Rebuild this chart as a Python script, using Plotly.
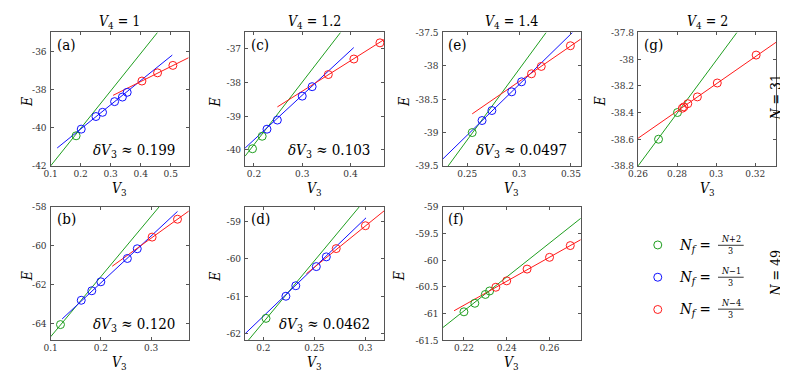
import plotly.graph_objects as go

W, H = 788, 372
FONT = "'DejaVu Serif Condensed', 'DejaVu Serif', serif"
GREEN = "#1f9e1f"
BLUE = "#1010ff"
RED = "#ff1a1a"

# ---- N = 31, V4 = 1  (a)
a_green_v3 = [0.185]
a_green_e = [-40.42]
a_blue_v3 = [0.202, 0.251, 0.273, 0.313, 0.339, 0.355]
a_blue_e = [-40.07, -39.41, -39.19, -38.63, -38.39, -38.14]
a_red_v3 = [0.404, 0.456, 0.507]
a_red_e = [-37.55, -37.12, -36.73]
a_green_fit_v3, a_green_fit_e = [0.1, 0.456], [-42.0, -35.0]
a_blue_fit_v3, a_blue_fit_e = [0.122, 0.505], [-41.06, -36.19]
a_red_fit_v3, a_red_fit_e = [0.308, 0.559], [-38.30, -36.33]

# ---- N = 31, V4 = 1.2  (c)
c_green_v3 = [0.197, 0.217]
c_green_e = [-39.97, -39.60]
c_blue_v3 = [0.227, 0.2485, 0.300, 0.3205]
c_blue_e = [-39.39, -39.12, -38.41, -38.13]
c_red_v3 = [0.354, 0.407, 0.461]
c_red_e = [-37.77, -37.31, -36.83]
c_green_fit_v3, c_green_fit_e = [0.1816, 0.3795], [-40.19, -36.52]
c_blue_fit_v3, c_blue_fit_e = [0.1816, 0.4068], [-39.95, -36.97]
c_red_fit_v3, c_red_fit_e = [0.2485, 0.470], [-38.73, -36.73]

# ---- N = 31, V4 = 1.4  (e)
e_green_v3 = [0.2548]
e_green_e = [-39.0]
e_blue_v3 = [0.2643, 0.2738, 0.2929, 0.3024]
e_blue_e = [-38.82, -38.67, -38.39, -38.24]
e_red_v3 = [0.312, 0.3214, 0.3495]
e_red_e = [-38.12, -38.01, -37.70]
e_green_fit_v3, e_green_fit_e = [0.2316, 0.3262], [-39.5, -37.5]
e_blue_fit_v3, e_blue_fit_e = [0.2262, 0.3516], [-39.40, -37.5]
e_red_fit_v3, e_red_fit_e = [0.2548, 0.3595], [-38.72, -37.60]

# ---- N = 31, V4 = 2  (g)
g_green_v3 = [0.2705, 0.2802]
g_green_e = [-38.6, -38.4]
g_red_v3 = [0.2827, 0.2835, 0.2855, 0.2904, 0.3006, 0.3205]
g_red_e = [-38.368, -38.358, -38.334, -38.283, -38.179, -37.97]
g_green_fit_v3, g_green_fit_e = [0.26, 0.3107], [-38.8, -37.8]
g_red_fit_v3, g_red_fit_e = [0.26, 0.3308], [-38.593, -37.873]

# ---- N = 49, V4 = 1  (b)
b_green_v3 = [0.1197]
b_green_e = [-64.07]
b_blue_v3 = [0.161, 0.182, 0.200, 0.2528, 0.2725]
b_blue_e = [-62.82, -62.33, -61.87, -60.67, -60.17]
b_red_v3 = [0.302, 0.3525]
b_red_e = [-59.57, -58.65]
b_green_fit_v3, b_green_fit_e = [0.1, 0.3164], [-64.7, -58.0]
b_blue_fit_v3, b_blue_fit_e = [0.123, 0.3525], [-63.78, -58.25]
b_red_fit_v3, b_red_fit_e = [0.2226, 0.375], [-61.07, -58.23]

# ---- N = 49, V4 = 1.2  (d)
d_green_v3 = [0.2026]
d_green_e = [-61.59]
d_blue_v3 = [0.2221, 0.2318, 0.2519, 0.2617]
d_blue_e = [-61.0, -60.72, -60.21, -59.95]
d_red_v3 = [0.2714, 0.300]
d_red_e = [-59.73, -59.12]
d_green_fit_v3, d_green_fit_e = [0.1854, 0.2942], [-62.17, -58.61]
d_blue_fit_v3, d_blue_fit_e = [0.1821, 0.3006], [-62.0, -58.91]
d_red_fit_v3, d_red_fit_e = [0.2422, 0.3185], [-60.40, -58.72]

# ---- N = 49, V4 = 1.4  (f)
f_green_v3 = [0.220, 0.2251, 0.2300, 0.2320]
f_green_e = [-60.97, -60.81, -60.645, -60.58]
f_red_v3 = [0.2349, 0.2400, 0.2495, 0.2600, 0.2697]
f_red_e = [-60.51, -60.39, -60.17, -59.95, -59.73]
f_green_fit_v3, f_green_fit_e = [0.21, 0.2746], [-61.27, -59.22]
f_red_fit_v3, f_red_fit_e = [0.2154, 0.2746], [-60.95, -59.62]

# axis ranges and ticks
a_xrange, a_yrange = [0.1, 0.56], [-42, -35]
a_xticks, a_yticks = [0.1, 0.2, 0.3, 0.4, 0.5], [-42, -40, -38, -36]
c_xrange, c_yrange = [0.1816, 0.47], [-40.48, -36.52]
c_xticks, c_yticks = [0.2, 0.3, 0.4], [-40, -39, -38, -37]
e_xrange, e_yrange = [0.2262, 0.3595], [-39.5, -37.5]
e_xticks, e_yticks = [0.25, 0.3, 0.35], [-39.5, -39, -38.5, -38, -37.5]
g_xrange, g_yrange = [0.26, 0.3308], [-38.8, -37.8]
g_xticks, g_yticks = [0.26, 0.28, 0.3, 0.32], [-38.8, -38.6, -38.4, -38.2, -38, -37.8]
b_xrange, b_yrange = [0.1, 0.375], [-64.87, -58]
b_xticks, b_yticks = [0.1, 0.2, 0.3], [-64, -62, -60, -58]
d_xrange, d_yrange = [0.1821, 0.3185], [-62.17, -58.61]
d_xticks, d_yticks = [0.2, 0.25, 0.3], [-62, -61, -60, -59]
f_xrange, f_yrange = [0.21, 0.2746], [-61.5, -59]
f_xticks, f_yticks = [0.22, 0.24, 0.26], [-61.5, -61, -60.5, -60, -59.5, -59]

v4_titles = ["1", "1.2", "1.4", "2"]
delta_v3 = {"a": "0.199", "c": "0.103", "e": "0.0497", "b": "0.120", "d": "0.0462"}


def px(x):
    return x / W


def py(y):
    return 1 - y / H


def label(x, y, text, size=15, xanchor="center", angle=0):
    return dict(x=px(x), y=py(y), xref="paper", yref="paper", text=text, showarrow=False,
                xanchor=xanchor, yanchor="middle", textangle=angle,
                font=dict(family=FONT, size=size, color="black"))


panels = [
    dict(tag="a", box=(33, 19, 173, 157), xr=a_xrange, yr=a_yrange, xt=a_xticks, yt=a_yticks,
         pts=[(a_green_v3, a_green_e, GREEN), (a_blue_v3, a_blue_e, BLUE), (a_red_v3, a_red_e, RED)],
         fits=[(a_green_fit_v3, a_green_fit_e, GREEN), (a_blue_fit_v3, a_blue_fit_e, BLUE),
               (a_red_fit_v3, a_red_fit_e, RED)], elab_x=9),
    dict(tag="c", box=(230, 19, 371, 157), xr=c_xrange, yr=c_yrange, xt=c_xticks, yt=c_yticks,
         pts=[(c_green_v3, c_green_e, GREEN), (c_blue_v3, c_blue_e, BLUE), (c_red_v3, c_red_e, RED)],
         fits=[(c_green_fit_v3, c_green_fit_e, GREEN), (c_blue_fit_v3, c_blue_fit_e, BLUE),
               (c_red_fit_v3, c_red_fit_e, RED)], elab_x=200),
    dict(tag="e", box=(430, 19, 570, 157), xr=e_xrange, yr=e_yrange, xt=e_xticks, yt=e_yticks,
         pts=[(e_green_v3, e_green_e, GREEN), (e_blue_v3, e_blue_e, BLUE), (e_red_v3, e_red_e, RED)],
         fits=[(e_green_fit_v3, e_green_fit_e, GREEN), (e_blue_fit_v3, e_blue_fit_e, BLUE),
               (e_red_fit_v3, e_red_fit_e, RED)], elab_x=391),
    dict(tag="g", box=(628, 19, 768, 157), xr=g_xrange, yr=g_yrange, xt=g_xticks, yt=g_yticks,
         pts=[(g_green_v3, g_green_e, GREEN), (g_red_v3, g_red_e, RED)],
         fits=[(g_green_fit_v3, g_green_fit_e, GREEN), (g_red_fit_v3, g_red_fit_e, RED)], elab_x=590),
    dict(tag="b", box=(33, 199, 173, 337), xr=b_xrange, yr=b_yrange, xt=b_xticks, yt=b_yticks,
         pts=[(b_green_v3, b_green_e, GREEN), (b_blue_v3, b_blue_e, BLUE), (b_red_v3, b_red_e, RED)],
         fits=[(b_green_fit_v3, b_green_fit_e, GREEN), (b_blue_fit_v3, b_blue_fit_e, BLUE),
               (b_red_fit_v3, b_red_fit_e, RED)], elab_x=9),
    dict(tag="d", box=(230, 199, 371, 337), xr=d_xrange, yr=d_yrange, xt=d_xticks, yt=d_yticks,
         pts=[(d_green_v3, d_green_e, GREEN), (d_blue_v3, d_blue_e, BLUE), (d_red_v3, d_red_e, RED)],
         fits=[(d_green_fit_v3, d_green_fit_e, GREEN), (d_blue_fit_v3, d_blue_fit_e, BLUE),
               (d_red_fit_v3, d_red_fit_e, RED)], elab_x=200),
    dict(tag="f", box=(430, 199, 570, 337), xr=f_xrange, yr=f_yrange, xt=f_xticks, yt=f_yticks,
         pts=[(f_green_v3, f_green_e, GREEN), (f_red_v3, f_red_e, RED)],
         fits=[(f_green_fit_v3, f_green_fit_e, GREEN), (f_red_fit_v3, f_red_fit_e, RED)], elab_x=386),
]

fig = go.Figure()
annotations = []
shapes = []
tick_font = dict(family=FONT, size=10, color="#333333")

for i, p in enumerate(panels, start=1):
    x0, y0, x1, y1 = p["box"]
    xa = "x" if i == 1 else f"x{i}"
    ya = "y" if i == 1 else f"y{i}"
    for vx, vy, col in p["fits"]:
        fig.add_trace(go.Scatter(x=vx, y=vy, mode="lines", line=dict(color=col, width=1),
                                 xaxis=xa, yaxis=ya, showlegend=False, hoverinfo="skip"))
    for vx, vy, col in p["pts"]:
        fig.add_trace(go.Scatter(x=vx, y=vy, mode="markers",
                                 marker=dict(symbol="circle-open", size=8, color=col, line=dict(width=1)),
                                 xaxis=xa, yaxis=ya, showlegend=False, cliponaxis=False))
    axis_common = dict(showline=True, mirror="ticks", ticks="inside", ticklen=3, tickwidth=1,
                       tickcolor="#555555", linecolor="#555555", linewidth=1, showgrid=False,
                       zeroline=False, tickfont=tick_font, tickmode="array")
    fig.layout[f"xaxis{'' if i == 1 else i}"] = dict(
        axis_common, domain=[px(x0), px(x1)], range=p["xr"], anchor=ya,
        tickvals=p["xt"], ticktext=["%g" % v for v in p["xt"]], ticklabelstandoff=-2)
    fig.layout[f"yaxis{'' if i == 1 else i}"] = dict(
        axis_common, domain=[py(y1), py(y0)], range=p["yr"], anchor=xa,
        tickvals=p["yt"], ticktext=["%g" % v for v in p["yt"]], ticklabelstandoff=1)

    annotations.append(label(x0 + 4, y0 + 13, f"({p['tag']})", size=15, xanchor="left"))
    annotations.append(label((x0 + x1) / 2, y1 + 24, "<i>V</i><sub>3</sub>", size=14))
    annotations.append(label(p["elab_x"], (y0 + y1) / 2 + 3, "<i>E</i>", size=14, angle=-90))
    if p["tag"] in delta_v3:
        annotations.append(label(x1 - 12, y1 - 16, f"<i>δV</i><sub>3</sub> ≈ {delta_v3[p['tag']]}",
                                 size=15, xanchor="right"))

# column titles
for p, t in zip(panels[:4], v4_titles):
    x0, y0, x1, y1 = p["box"]
    annotations.append(label((x0 + x1) / 2, 8, f"<i>V</i><sub>4</sub> = {t}", size=14))

# row labels
for yc, n in [(86, "31"), (268, "49")]:
    annotations.append(label(768, yc, f"<i>N</i> = {n}", size=14, angle=-90))

# legend, drawn by hand to get stacked fractions
legend_colors = [GREEN, BLUE, RED]
legend_nums = ["<i>N</i>+2", "<i>N</i>−1", "<i>N</i>−4"]
legend_rows = [0, 1, 2]
fig.add_trace(go.Scatter(x=[0, 0, 0], y=legend_rows, mode="markers",
                         marker=dict(symbol="circle-open", size=8, color=legend_colors, line=dict(width=1)),
                         xaxis="x8", yaxis="y8", showlegend=False, hoverinfo="skip"))
fig.layout["xaxis8"] = dict(domain=[px(640), px(656)], range=[-1, 1], visible=False, anchor="y8")
fig.layout["yaxis8"] = dict(domain=[py(322), py(222)], range=[2.5, -0.5], visible=False, anchor="x8")
for k, yc in enumerate([239, 272, 305]):
    annotations.append(label(667, yc, "<i>N<sub>f</sub></i> =", size=15, xanchor="left"))
    annotations.append(label(722, yc - 6, legend_nums[k], size=9))
    annotations.append(label(722, yc + 6, "3", size=9))
    shapes.append(dict(type="line", xref="paper", yref="paper", x0=px(709), x1=px(735),
                       y0=py(yc), y1=py(yc), line=dict(color="black", width=0.8)))

fig.update_layout(
    width=W, height=H,
    margin=dict(l=0, r=0, t=0, b=0),
    paper_bgcolor="white", plot_bgcolor="white",
    annotations=annotations, shapes=shapes,
    font=dict(family=FONT, color="black"),
    showlegend=False,
)

fig.write_html("out.html")
